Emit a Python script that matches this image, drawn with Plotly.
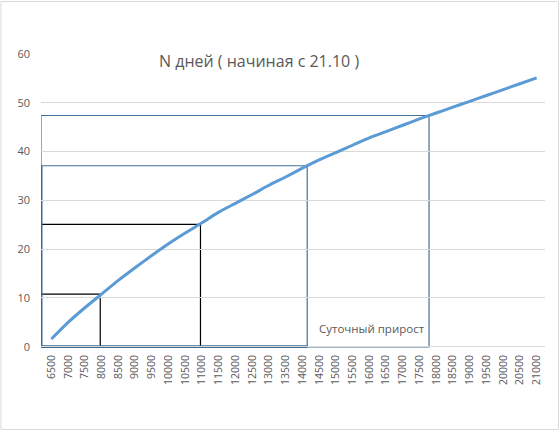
import plotly.graph_objects as go

categories = [str(v) for v in range(6500, 21001, 500)]
days = [1.6, 5.0, 8.0, 10.8, 13.6, 16.2, 18.7, 21.1, 23.3, 25.4,
        27.6, 29.4, 31.2, 33.1, 34.8, 36.6, 38.3, 39.8, 41.3, 42.8,
        44.1, 45.4, 46.7, 47.9, 49.1, 50.3, 51.5, 52.7, 53.9, 55.1]

# rectangles: (right edge as category index, top value, colour)
rect_right = [2.92, 8.91, 15.29, 22.57]
rect_top = [10.8, 25.1, 37.1, 47.4]
rect_color = ["#000000", "#000000", "#41719C", "#41719C"]

title_text = "N дней ( начиная с 21.10 )"
note_text = "Суточный прирост"

X0 = -0.62

fig = go.Figure()
fig.add_trace(go.Scatter(
    x=categories, y=days, mode="lines",
    line=dict(color="#5B9BD5", width=3, shape="spline", smoothing=0.6),
    showlegend=False, hoverinfo="skip"))

shapes = []
for xr, yt, c in zip(rect_right, rect_top, rect_color):
    shapes.append(dict(type="rect", xref="x", yref="y", x0=X0, x1=xr, y0=0, y1=yt,
                       line=dict(color=c, width=1.2), layer="below"))
# thicker left/bottom edges seen in reference
shapes.append(dict(type="line", xref="x", yref="y", x0=X0, x1=X0, y0=0, y1=rect_top[2],
                   line=dict(color="#3E6A92", width=3), layer="below"))
shapes.append(dict(type="line", xref="x", yref="y", x0=X0, x1=rect_right[2], y0=0, y1=0,
                   line=dict(color="#3E6A92", width=3), layer="below"))
# chart border
shapes.append(dict(type="rect", xref="paper", yref="paper", x0=-0.0794, x1=1.0268,
                   y0=-0.277, y1=1.1786, line=dict(color="#D9D9D9", width=1)))

fig.update_layout(
    width=560, height=431,
    margin=dict(l=41, r=15, t=54, b=83),
    paper_bgcolor="white", plot_bgcolor="white",
    font=dict(family="Open Sans", color="#595959"),
    shapes=shapes,
    annotations=[
        dict(text=title_text, xref="paper", yref="paper", x=(259 - 41) / 504,
             y=(348 - 61) / 294, xanchor="center", yanchor="middle",
             showarrow=False, font=dict(size=16, color="#595959")),
        dict(text=note_text, xref="x", yref="y", x=22.45, y=3.7,
             xanchor="right", yanchor="middle", showarrow=False,
             font=dict(size=11.5, color="#595959")),
    ],
    xaxis=dict(type="category", range=[X0, 29.5], tickangle=-90,
               tickfont=dict(size=10.5, color="#595959"), showgrid=False,
               showline=False, zeroline=False, ticks="", ticklabelstandoff=4),
    yaxis=dict(range=[-0.25, 60], tickvals=[0, 10, 20, 30, 40, 50, 60],
               showgrid=True, gridcolor="#D9D9D9", gridwidth=1,
               zeroline=False, showline=False, ticks="",
               tickfont=dict(size=11, color="#595959"), ticklabelstandoff=10),
)

fig.write_html("out.html", config={"displayModeBar": False},
               post_script="document.body.style.margin='0';document.body.style.overflow='hidden';")
